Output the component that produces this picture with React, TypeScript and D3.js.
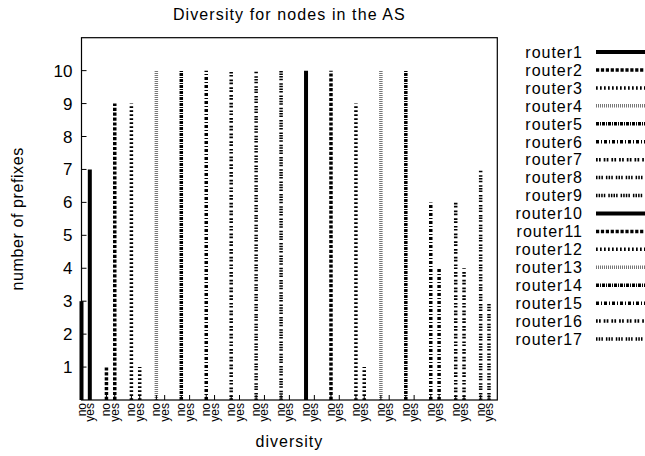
import React from "react";
import * as d3 from "d3";

const routers = [
  "router1", "router2", "router3", "router4", "router5", "router6", "router7", "router8", "router9",
  "router10", "router11", "router12", "router13", "router14", "router15", "router16", "router17",
];
const noValues = [3, 1, 9, 10, 10, 10, 10, 10, 10, 10, 10, 9, 10, 10, 6, 6, 7];
const yesValues = [7, 9, 1, 0, 0, 0, 0, 0, 0, 0, 0, 1, 0, 0, 4, 4, 3];
const diversityLabels = ["no", "yes"];
const yTicks = [1, 2, 3, 4, 5, 6, 7, 8, 9, 10];

// line styles (cycle of 9, gnuplot-like)
const lineStyles = [
  { dash: "", color: "#000", width: 4 },
  { dash: "3.2,1.7", color: "#000", width: 3.5 },
  { dash: "1.7,2.3", color: "#000", width: 3.5 },
  { dash: "1,1", color: "#777", width: 3.5 },
  { dash: "3,1,1,1", color: "#000", width: 3.5 },
  { dash: "3,2,1,2", color: "#000", width: 3.5 },
  { dash: "1.7,1.3,1.7,3", color: "#000", width: 3.5 },
  { dash: "1.5,1.2,1.5,1.2,1.5,3", color: "#000", width: 3.5 },
  { dash: "1.5,1.1,1.5,1.1,1.5,1.1,1.5,3", color: "#000", width: 3.5 },
];

const W = 645;
const H = 456;
const left = 81.5;
const right = 497.3;
const top = 37.7;
const bottom = 400;
const FONT = "'Liberation Sans', Arial, Helvetica, sans-serif";

export default function App() {
  const x = d3.scaleLinear().domain([0, 50]).range([left, right]);
  const y = d3.scaleLinear().domain([0, 11]).range([bottom, top]);

  const bars: { xv: number; v: number; style: number; label: string }[] = [];
  routers.forEach((r, i) => {
    bars.push({ xv: 3 * i, v: noValues[i], style: i % 9, label: diversityLabels[0] });
    bars.push({ xv: 3 * i + 1, v: yesValues[i], style: i % 9, label: diversityLabels[1] });
  });

  const legendY0 = 52;
  const legendStep = 17.94;

  return (
    <svg width={W} height={H} viewBox={`0 0 ${W} ${H}`} style={{ position: "absolute", left: 0, top: 0, background: "#fff" }}>
      <rect x={0} y={0} width={W} height={H} fill="#fff" />
      {/* title */}
      <text x={(left + right) / 2} y={20} textAnchor="middle" fontFamily={FONT} fontSize={16} letterSpacing={1.1} fill="#000">
        Diversity for nodes in the AS
      </text>
      {/* bars */}
      {bars.map((b, k) => {
        const s = lineStyles[b.style];
        if (b.v <= 0) return null;
        return (
          <line
            key={"b" + k}
            x1={x(b.xv)}
            x2={x(b.xv)}
            y1={y(0)}
            y2={y(b.v)}
            stroke={s.color}
            strokeWidth={s.width}
            strokeDasharray={s.dash || undefined}
          />
        );
      })}
      {/* frame */}
      <rect x={left} y={top} width={right - left} height={bottom - top} fill="none" stroke="#000" strokeWidth={1.2} />
      {/* y ticks */}
      {yTicks.map((t) => (
        <g key={"y" + t}>
          <line x1={left} x2={left + 5} y1={y(t)} y2={y(t)} stroke="#000" strokeWidth={1} />
          <text x={left - 9} y={y(t) + 6} textAnchor="end" fontFamily={FONT} fontSize={17} fill="#000">
            {t}
          </text>
        </g>
      ))}
      {/* x ticks and labels */}
      {bars.map((b, k) => (
        <g key={"x" + k}>
          <line x1={x(b.xv)} x2={x(b.xv)} y1={bottom} y2={bottom - 5} stroke="#000" strokeWidth={1} />
          <text
            transform={`translate(${x(b.xv)},${bottom + 3}) rotate(-90)`}
            textAnchor="end"
            dominantBaseline="central"
            fontFamily={FONT}
            fontSize={12}
            fill="#000"
          >
            {b.label}
          </text>
        </g>
      ))}
      {/* axis titles */}
      <text x={(left + right) / 2} y={447} textAnchor="middle" fontFamily={FONT} fontSize={16} letterSpacing={1} fill="#000">
        diversity
      </text>
      <text
        transform={`translate(23,${(top + bottom) / 2}) rotate(-90)`}
        textAnchor="middle"
        fontFamily={FONT}
        fontSize={16}
        letterSpacing={0.6}
        fill="#000"
      >
        number of prefixes
      </text>
      {/* legend */}
      {routers.map((r, i) => {
        const s = lineStyles[i % 9];
        const ly = legendY0 + i * legendStep;
        return (
          <g key={"l" + i}>
            <text x={583} y={ly + 5.8} textAnchor="end" fontFamily={FONT} fontSize={16} letterSpacing={1} fill="#000">
              {r}
            </text>
            <line
              x1={596}
              x2={645}
              y1={ly}
              y2={ly}
              stroke={s.color}
              strokeWidth={s.width}
              strokeDasharray={s.dash || undefined}
            />
          </g>
        );
      })}
    </svg>
  );
}
